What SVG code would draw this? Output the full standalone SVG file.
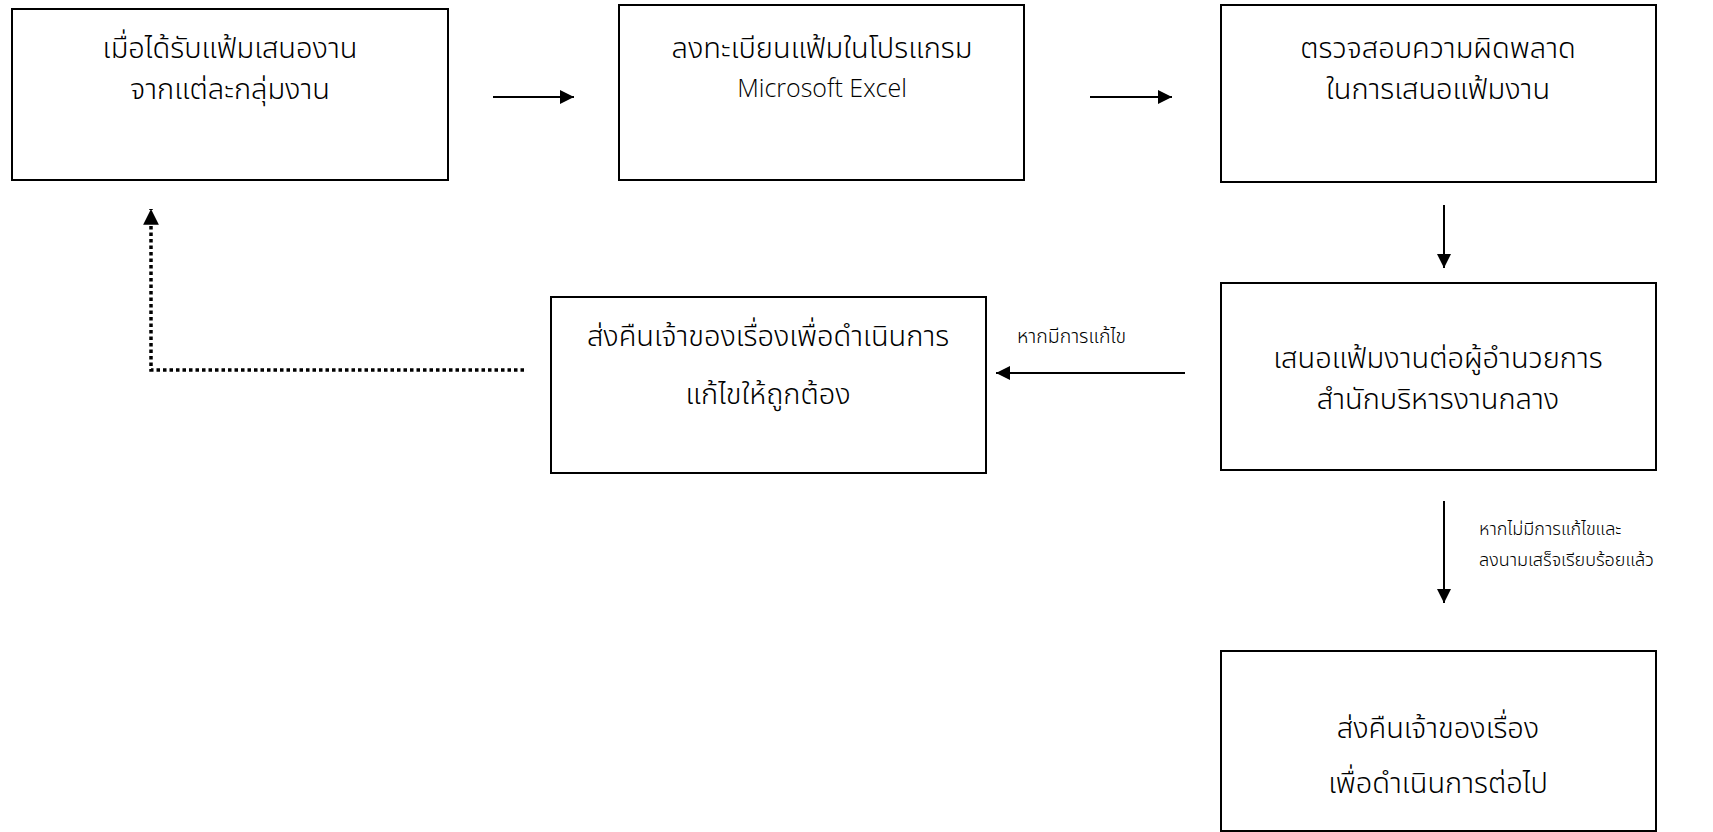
<svg xmlns="http://www.w3.org/2000/svg" width="1713" height="832" viewBox="0 0 1713 832">
<defs>
<style>
.box{fill:#fff;stroke:#000;stroke-width:2}
.t{font-family:"Noto Sans Thai","Noto Sans","DejaVu Sans",sans-serif;font-size:29px;font-weight:300;fill:#000;text-anchor:middle}
.lat{font-family:"Open Sans","Noto Sans",sans-serif;font-size:25px;font-weight:300;fill:#000;text-anchor:middle}
.s{font-family:"Noto Sans Thai","Noto Sans","DejaVu Sans",sans-serif;font-size:18px;font-weight:300;fill:#000}
.c{fill:none;stroke:#000;stroke-width:2}
.d{fill:none;stroke:#000;stroke-width:3.5;stroke-dasharray:3.5 3}
</style>
<marker id="ah" viewBox="0 0 10 10" refX="10" refY="5" markerWidth="7.5" markerHeight="7" markerUnits="strokeWidth" orient="auto">
<path d="M0,0 L10,5 L0,10 z" fill="#000"/>
</marker>
<marker id="ahd" viewBox="0 0 10 10" refX="10" refY="5" markerWidth="4.5" markerHeight="4.5" markerUnits="strokeWidth" orient="auto">
<path d="M0,0 L10,5 L0,10 z" fill="#000"/>
</marker>
</defs>
<rect width="1713" height="832" fill="#fff"/>
<g id="connectors">
<line class="c" x1="493" y1="97" x2="574" y2="97" marker-end="url(#ah)"/>
<line class="c" x1="1090" y1="97" x2="1172" y2="97" marker-end="url(#ah)"/>
<line class="c" x1="1444" y1="205" x2="1444" y2="268" marker-end="url(#ah)"/>
<line class="c" x1="1185" y1="373" x2="996" y2="373" marker-end="url(#ah)"/>
<line class="c" x1="1444" y1="501" x2="1444" y2="603" marker-end="url(#ah)"/>
<polyline class="d" points="524,370 151,370 151,209" marker-end="url(#ahd)"/>
<text class="s" x="1017" y="343" style="font-size:19.5px">หากมีการแก้ไข</text>
<text class="s" x="1479" y="535">หากไม่มีการแก้ไขและ</text>
<text class="s" x="1479" y="566">ลงนามเสร็จเรียบร้อยแล้ว</text>
</g>
<g id="n1">
<rect class="box" x="12" y="9" width="436" height="171"/>
<text class="t" x="230" y="58">เมื่อได้รับแฟ้มเสนองาน</text>
<text class="t" x="230" y="99">จากแต่ละกลุ่มงาน</text>
</g>
<g id="n2">
<rect class="box" x="619" y="5" width="405" height="175"/>
<text class="t" x="822" y="58">ลงทะเบียนแฟ้มในโปรแกรม</text>
<text class="lat" x="822" y="97">Microsoft Excel</text>
</g>
<g id="n3">
<rect class="box" x="1221" y="5" width="435" height="177"/>
<text class="t" x="1438" y="58">ตรวจสอบความผิดพลาด</text>
<text class="t" x="1438" y="99">ในการเสนอแฟ้มงาน</text>
</g>
<g id="n4">
<rect class="box" x="1221" y="283" width="435" height="187"/>
<text class="t" x="1438" y="368">เสนอแฟ้มงานต่อผู้อำนวยการ</text>
<text class="t" x="1438" y="409">สำนักบริหารงานกลาง</text>
</g>
<g id="n5">
<rect class="box" x="551" y="297" width="435" height="176"/>
<text class="t" x="768" y="346">ส่งคืนเจ้าของเรื่องเพื่อดำเนินการ</text>
<text class="t" x="768" y="404">แก้ไขให้ถูกต้อง</text>
</g>
<g id="n6">
<rect class="box" x="1221" y="651" width="435" height="180"/>
<text class="t" x="1438" y="738">ส่งคืนเจ้าของเรื่อง</text>
<text class="t" x="1438" y="793">เพื่อดำเนินการต่อไป</text>
</g>
</svg>
